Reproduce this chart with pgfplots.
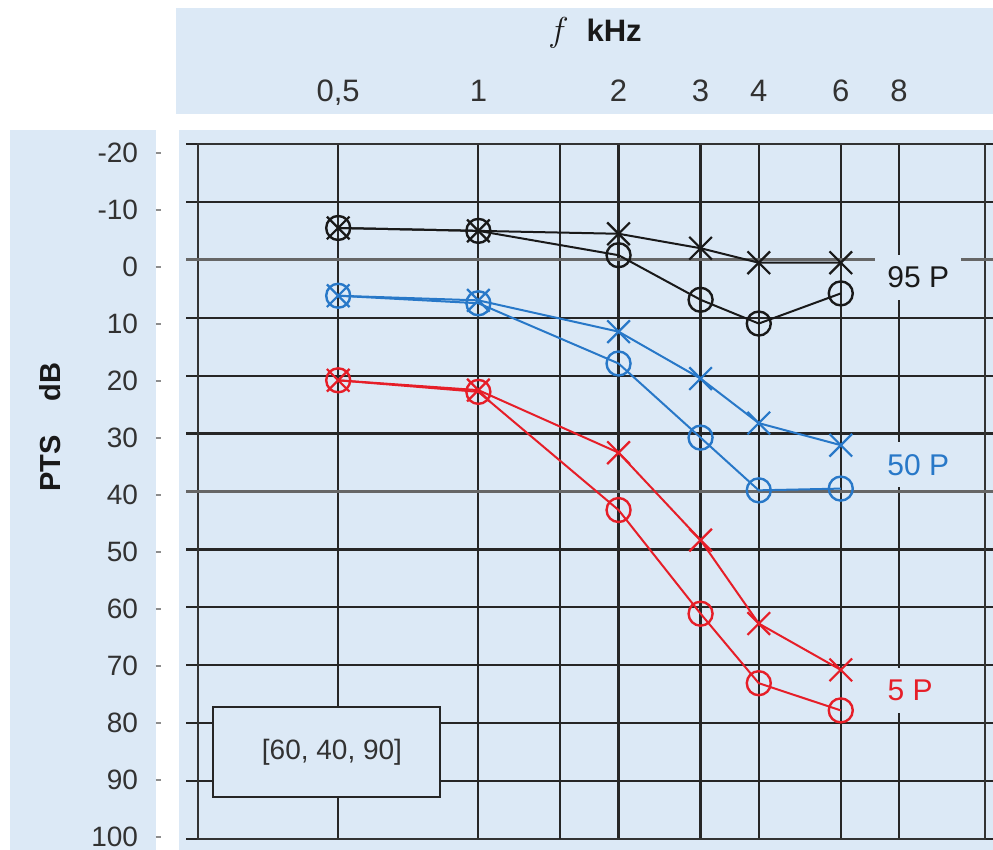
\documentclass[border=0pt]{standalone}
\usepackage{pgfplots}
\pgfplotsset{compat=1.18}
\usepackage{fontspec}
\setmainfont{Liberation Sans}
\definecolor{bg}{RGB}{220,233,246}
\definecolor{cblue}{RGB}{40,120,200}
\definecolor{cred}{RGB}{230,30,40}
\definecolor{cblack}{RGB}{25,25,25}
\definecolor{txt}{RGB}{50,50,50}
\newcommand{\tm}{\hspace{9pt}{\color{black!45}\rule[4.5pt]{2.5pt}{0.8pt}}}
\begin{document}
\begin{tikzpicture}
\fill[white] (0,0) rectangle (496.5pt,425pt);
\fill[bg] (88pt,368pt) rectangle (496.5pt,421pt);
\fill[bg] (5pt,0pt) rectangle (78pt,360pt);
\fill[bg] (89.5pt,0pt) rectangle (496.5pt,360pt);
\begin{axis}[
  at={(99pt,5.5pt)}, anchor=south west,
  scale only axis, width=393.5pt, height=347.5pt,
  xmode=log, log basis x=2, xmin=0.25, xmax=12.24,
  ymin=-20, ymax=100, y dir=reverse,
  xtick={0.5,1,2,3,4,6,8},
  xticklabels={{0,5},1,2,3,4,6,8},
  extra x ticks={1.5}, extra x tick labels={},
  minor xtick={},
  xticklabel pos=upper,
  xtick style={draw=none},
  xticklabel style={font=\fontsize{15.5}{15.5}\selectfont, text=txt, anchor=base, yshift=15pt},
  ytick={-20,-10,...,100},
  yticklabel={\pgfmathprintnumber[assume math mode=true]{\tick}\tm},
  yticklabel style={font=\fontsize{14}{14}\selectfont, text=txt, anchor=east, yshift={(-4.5+(\tick+20)*5.5/120)*1pt}, xshift=-9pt},
  tick align=outside, major tick length=6pt,
  ytick style={black!85, line width=1.1pt},
  extra y ticks={0,40}, extra y tick labels={},
  extra y tick style={major grid style={black!60, line width=1.4pt}, ytick style={black!60, line width=1.4pt}},
  grid=major,
  major grid style={black!85, line width=1.1pt},
  axis line style={black!80, line width=1.3pt},
  every axis plot/.append style={line width=1pt},
  clip=false,
]
\addplot[cblack, mark=x, mark size=8pt, mark options={line width=1.1pt}] coordinates {(0.5,-5.5) (1,-5) (2,-4.5) (3,-2) (4,0.5) (6,0.5)};
\addplot[cblack, mark=o, mark size=6pt, mark options={line width=1.2pt}] coordinates {(0.5,-5.5) (1,-5) (2,-0.8) (3,6.9) (4,11) (6,5.8)};
\addplot[cblue, mark=x, mark size=8pt, mark options={line width=1.1pt}] coordinates {(0.5,6.2) (1,7) (2,12.4) (3,20.5) (4,28.2) (6,32)};
\addplot[cblue, mark=o, mark size=6pt, mark options={line width=1.2pt}] coordinates {(0.5,6.2) (1,7.5) (2,17.9) (3,30.7) (4,39.8) (6,39.5)};
\addplot[cred, mark=x, mark size=8pt, mark options={line width=1.1pt}] coordinates {(0.5,20.8) (1,22.5) (2,33.3) (3,48.4) (4,62.8) (6,70.8)};
\addplot[cred, mark=o, mark size=6pt, mark options={line width=1.2pt}] coordinates {(0.5,20.8) (1,22.8) (2,43.2) (3,61.1) (4,73.1) (6,77.8)};
\node[fill=bg, inner sep=6pt, text=cblack, font=\fontsize{15}{15}\selectfont] at (axis cs:8.8,3) {95 P};
\node[fill=bg, inner sep=6pt, text=cblue, font=\fontsize{15}{15}\selectfont] at (axis cs:8.8,35.4) {50 P};
\node[fill=bg, inner sep=6pt, text=cred, font=\fontsize{15}{15}\selectfont] at (axis cs:8.45,74.3) {5 P};
\end{axis}
\draw[line width=1pt, draw=black!85, fill=bg] (106.5pt,26.5pt) rectangle (220pt,71.5pt);
\node[font=\fontsize{14}{14}\selectfont, text=txt] at (166pt,49pt) {[60, 40, 90]};
\node[anchor=base, font=\fontsize{15.5}{15.5}\selectfont, text=cblack] at (297.5pt,404pt) {{\fontsize{19}{19}\selectfont$f$}\hspace{9pt}\textbf{kHz}};
\node[rotate=90, font=\bfseries\fontsize{14.5}{15}\selectfont, text=cblack] at (25pt,211.5pt) {PTS\hspace{17pt}dB};
\pgfresetboundingbox
\useasboundingbox (0,0) rectangle (496.5pt,425pt);
\end{tikzpicture}
\end{document}
